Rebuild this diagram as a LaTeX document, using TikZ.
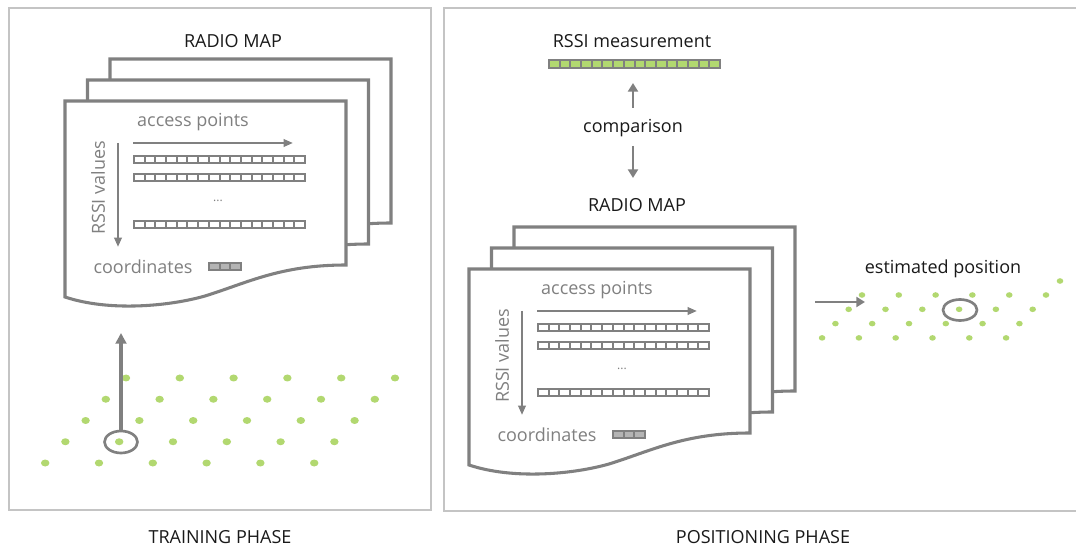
\documentclass[tikz,border=0pt]{standalone}
\usepackage{fontspec}
\setmainfont{Open Sans}
\usetikzlibrary{arrows.meta,shapes.geometric}

\definecolor{framegray}{RGB}{196,196,196}
\definecolor{ink}{RGB}{128,128,128}
\definecolor{dotgreen}{RGB}{178,216,112}
\definecolor{cellgray}{RGB}{180,180,180}

\tikzset{
  panel/.style={draw=framegray, line width=2.1pt},
  page/.style={draw=ink, fill=white, line width=2.3pt, line join=miter},
  flow/.style={draw=ink, line width=1.9pt, -{Triangle[length=6.5pt,width=7.5pt]}},
  bigflow/.style={draw=ink, line width=2.5pt, -{Triangle[length=8pt,width=8pt]}},
  axis/.style={draw=ink, line width=1.7pt, -{Triangle[length=7pt,width=5.5pt]}},
  head/.style={font=\fontsize{13.5}{16}\selectfont, text=black!90, inner sep=0pt},
  note/.style={font=\fontsize{13.5}{16}\selectfont, text=ink, inner sep=0pt},
  pick/.style={ellipse, draw=ink, line width=2pt, inner sep=0pt},
  pics/cellrow/.style n args={4}{code={%
    % #1 cells, #2 total width, #3 height, #4 cell colour
    \fill[ink] (0,0) rectangle (#2,#3);
    \pgfmathsetmacro\cellw{(#2-2)/#1}
    \foreach \i in {1,...,#1}{%
      \fill[#4] ({2+(\i-1)*\cellw},2) rectangle ({(\i)*\cellw},{#3-2});
    }
  }}
}

% a stack of three sheets holding the fingerprint table; #1 = top-left corner, #2 = name prefix
\newcommand\radiomap[2]{%
  \begin{scope}[shift={(#1)}]
    \foreach \k in {2,1,0}{%
      \path[page, shift={(22.5*\k,-21*\k)}] (0,0) -- (281,0) -- (281,164)
        .. controls (215,164) and (182,182) .. (140,195)
        .. controls (105,205) and (45,211) .. (0,196) -- cycle;
    }
    \node[note] (#2ap) at (128,21) {access points};
    \coordinate (#2apa) at (68,42);
    \coordinate (#2apb) at (228,42);
    \draw[axis] (#2apa) -- (#2apb);
    \node[note, rotate=90] (#2rv) at (33,87) {RSSI values};
    \coordinate (#2rva) at (53,42);
    \coordinate (#2rvb) at (53,146);
    \draw[axis] (#2rva) -- (#2rvb);
    \foreach \y in {54,72,119}{\pic at (68,\y) {cellrow={16}{173}{9}{white}};}
    \node[note, font=\fontsize{9}{9}\selectfont] (#2more) at (153,100) {...};
    \node[note] (#2co) at (78,166) {coordinates};
    \pic at (143,161) {cellrow={3}{34}{9}{cellgray}};
  \end{scope}}

\begin{document}
\begin{tikzpicture}[x=0.75pt,y=-0.75pt]
  \useasboundingbox (0,0) rectangle (1076,549);

  % panels
  \draw[panel] (9,8) rectangle (431,510);
  \draw[panel] (1090,8) -- (444,8) -- (444,511) -- (1090,511);

  % ---------- training phase ----------
  \node[head] (mapL) at (233,41) {RADIO MAP};
  \radiomap{65,101}{L}

  \foreach \r in {0,...,4}{%
    \foreach \c in {0,...,5}{%
      \fill[dotgreen] ({126-20.2*\r+53.8*\c},{378+21.25*\r}) ellipse [x radius=4.2, y radius=3.5];
    }
  }
  \node[pick, minimum width=24.75pt, minimum height=16.5pt] (ringL) at (121,442) {};
  \coordinate (mapLin) at (121,333);
  \draw[bigflow] (ringL) -- (mapLin);

  \node[head] (train) at (220,537) {TRAINING PHASE};

  % ---------- positioning phase ----------
  \node[head] (meas) at (632,41) {RSSI measurement};
  \pic at (548,59) {cellrow={16}{173}{10}{dotgreen}};

  \node[head] (cmp) at (633,128) {comparison};
  \coordinate (cmpup) at (633,108);
  \coordinate (bar) at (633,83);
  \coordinate (cmpdown) at (633,146);
  \coordinate (mapRtop) at (633,178);
  \draw[flow] (cmpup) -- (bar);
  \draw[flow] (cmpdown) -- (mapRtop);

  \node[head] (mapR) at (637,205) {RADIO MAP};
  \radiomap{469,269}{R}

  \node[head] (est) at (943,269) {estimated position};
  \coordinate (estin) at (815,302);
  \coordinate (estout) at (865,302);
  \draw[flow] (estin) -- (estout);

  \foreach \r in {0,...,3}{%
    \foreach \c in {0,...,5}{%
      \fill[dotgreen] ({862-13.3*\r+36.8*\c},{295+14.3*\r}) ellipse [x radius=3.3, y radius=2.8];
    }
  }
  \fill[dotgreen] (1060,281) ellipse [x radius=3.3, y radius=2.8];
  \node[pick, minimum width=25.5pt, minimum height=15.75pt] (ringR) at (960,310) {};

  \node[head] (pos) at (763,537) {POSITIONING PHASE};
\end{tikzpicture}
\end{document}
